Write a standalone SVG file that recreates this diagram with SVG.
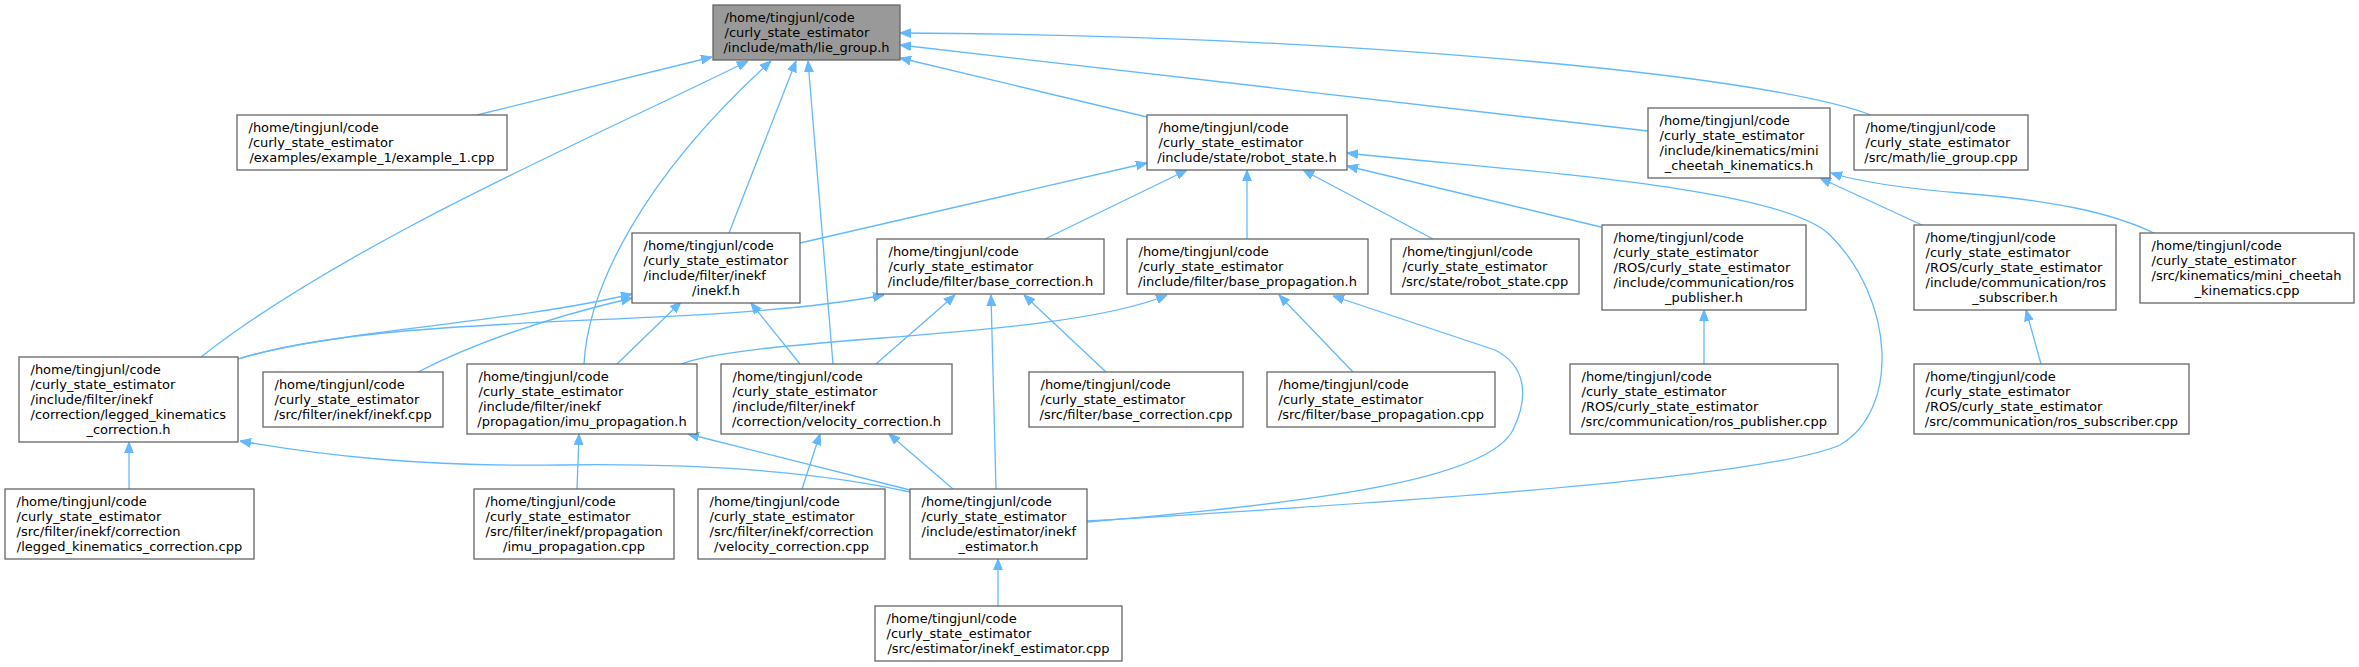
<svg xmlns="http://www.w3.org/2000/svg" width="2359" height="667" viewBox="0 0 2359 667">
<style>
.n rect{fill:#ffffff;stroke:#666666;stroke-width:1.3}
#n0 rect{fill:#999999}
.n text{font-family:"DejaVu Sans",sans-serif;font-size:13px;fill:#000000}
.n text.c{text-anchor:middle}
.e path{fill:none;stroke:#63b8ff;stroke-width:1.3;marker-end:url(#ah)}
</style>
<defs>
<marker id="ah" markerWidth="11" markerHeight="10" refX="11" refY="5" orient="auto" markerUnits="userSpaceOnUse">
<path d="M0,0.6 L11,5 L0,9.4 z" fill="#63b8ff" stroke="#63b8ff" stroke-width="1"/>
</marker>
</defs>
<rect width="2359" height="667" fill="#ffffff"/>
<g id="edges" class="e">
<path d="M477,115 L712,57"/>
<path d="M201,357 C 350,240 610,130 748,61"/>
<path d="M584,364 C 588,290 640,180 771,61"/>
<path d="M729,233 L796,61"/>
<path d="M833,364 L808,61"/>
<path d="M1147,117 L900,58"/>
<path d="M1648,131 L900,45"/>
<path d="M1871,115 C 1750,70 1300,35 900,33"/>
<path d="M800,243 L1147,163"/>
<path d="M1045,239 L1187,170"/>
<path d="M1247,239 L1247,170"/>
<path d="M1433,239 L1303,170"/>
<path d="M1601,227 L1347,166"/>
<path d="M1087,521 C 1350,505 1760,480 1840,445 C 1900,410 1895,300 1830,235 C 1780,185 1500,170 1347,153"/>
<path d="M1922,225 L1820,178"/>
<path d="M2154,233 C 2110,212 2050,200 1960,193 C 1900,188 1860,182 1831,173"/>
<path d="M238,359 C 330,330 500,325 632,294"/>
<path d="M418,372 C 480,340 560,315 632,298"/>
<path d="M617,364 L681,302"/>
<path d="M800,364 L751,303"/>
<path d="M238,359 C 400,310 700,330 884,295"/>
<path d="M876,364 L955,295"/>
<path d="M996,489 L991,295"/>
<path d="M1106,372 L1024,295"/>
<path d="M681,364 C 760,335 1060,340 1167,295"/>
<path d="M1353,372 L1279,295"/>
<path d="M1087,522 C 1350,500 1490,475 1513,430 C 1530,395 1525,365 1495,350 L1333,296"/>
<path d="M1704,364 L1704,310"/>
<path d="M2041,364 L2026,310"/>
<path d="M129,489 L129,442"/>
<path d="M910,492 C 820,472 700,463 560,465 C 420,467 320,455 240,441"/>
<path d="M577,489 L579,434"/>
<path d="M910,490 L688,434"/>
<path d="M802,489 L820,434"/>
<path d="M953,489 L889,434"/>
<path d="M998,606 L998,559"/>
</g>
<g id="n0" class="n"><rect x="713" y="5" width="187" height="55"/><text x="724.5" y="21.5">/home/tingjunl/code</text><text x="724.5" y="36.5">/curly_state_estimator</text><text class="c" x="806.5" y="51.5">/include/math/lie_group.h</text></g>
<g id="n1" class="n"><rect x="237" y="115" width="270" height="55"/><text x="248.5" y="131.5">/home/tingjunl/code</text><text x="248.5" y="146.5">/curly_state_estimator</text><text class="c" x="372" y="161.5">/examples/example_1/example_1.cpp</text></g>
<g id="n2" class="n"><rect x="1147" y="115" width="200" height="55"/><text x="1158.5" y="131.5">/home/tingjunl/code</text><text x="1158.5" y="146.5">/curly_state_estimator</text><text class="c" x="1247" y="161.5">/include/state/robot_state.h</text></g>
<g id="n3" class="n"><rect x="1648" y="108" width="182" height="70"/><text x="1659.5" y="124.5">/home/tingjunl/code</text><text x="1659.5" y="139.5">/curly_state_estimator</text><text x="1659.5" y="154.5">/include/kinematics/mini</text><text class="c" x="1739" y="169.5">_cheetah_kinematics.h</text></g>
<g id="n4" class="n"><rect x="1854" y="115" width="174" height="55"/><text x="1865.5" y="131.5">/home/tingjunl/code</text><text x="1865.5" y="146.5">/curly_state_estimator</text><text class="c" x="1941" y="161.5">/src/math/lie_group.cpp</text></g>
<g id="n5" class="n"><rect x="632" y="233" width="168" height="70"/><text x="643.5" y="249.5">/home/tingjunl/code</text><text x="643.5" y="264.5">/curly_state_estimator</text><text x="643.5" y="279.5">/include/filter/inekf</text><text class="c" x="716" y="294.5">/inekf.h</text></g>
<g id="n6" class="n"><rect x="877" y="239" width="227" height="55"/><text x="888.5" y="255.5">/home/tingjunl/code</text><text x="888.5" y="270.5">/curly_state_estimator</text><text class="c" x="990.5" y="285.5">/include/filter/base_correction.h</text></g>
<g id="n7" class="n"><rect x="1127" y="239" width="241" height="55"/><text x="1138.5" y="255.5">/home/tingjunl/code</text><text x="1138.5" y="270.5">/curly_state_estimator</text><text class="c" x="1247.5" y="285.5">/include/filter/base_propagation.h</text></g>
<g id="n8" class="n"><rect x="1391" y="239" width="188" height="55"/><text x="1402.5" y="255.5">/home/tingjunl/code</text><text x="1402.5" y="270.5">/curly_state_estimator</text><text class="c" x="1485" y="285.5">/src/state/robot_state.cpp</text></g>
<g id="n9" class="n"><rect x="1602" y="225" width="204" height="85"/><text x="1613.5" y="241.5">/home/tingjunl/code</text><text x="1613.5" y="256.5">/curly_state_estimator</text><text x="1613.5" y="271.5">/ROS/curly_state_estimator</text><text x="1613.5" y="286.5">/include/communication/ros</text><text class="c" x="1704" y="301.5">_publisher.h</text></g>
<g id="n10" class="n"><rect x="1914" y="225" width="202" height="85"/><text x="1925.5" y="241.5">/home/tingjunl/code</text><text x="1925.5" y="256.5">/curly_state_estimator</text><text x="1925.5" y="271.5">/ROS/curly_state_estimator</text><text x="1925.5" y="286.5">/include/communication/ros</text><text class="c" x="2015" y="301.5">_subscriber.h</text></g>
<g id="n11" class="n"><rect x="2140" y="233" width="214" height="70"/><text x="2151.5" y="249.5">/home/tingjunl/code</text><text x="2151.5" y="264.5">/curly_state_estimator</text><text x="2151.5" y="279.5">/src/kinematics/mini_cheetah</text><text class="c" x="2247" y="294.5">_kinematics.cpp</text></g>
<g id="n12" class="n"><rect x="19" y="357" width="219" height="85"/><text x="30.5" y="373.5">/home/tingjunl/code</text><text x="30.5" y="388.5">/curly_state_estimator</text><text x="30.5" y="403.5">/include/filter/inekf</text><text x="30.5" y="418.5">/correction/legged_kinematics</text><text class="c" x="128.5" y="433.5">_correction.h</text></g>
<g id="n13" class="n"><rect x="263" y="372" width="180" height="55"/><text x="274.5" y="388.5">/home/tingjunl/code</text><text x="274.5" y="403.5">/curly_state_estimator</text><text class="c" x="353" y="418.5">/src/filter/inekf/inekf.cpp</text></g>
<g id="n14" class="n"><rect x="467" y="364" width="230" height="70"/><text x="478.5" y="380.5">/home/tingjunl/code</text><text x="478.5" y="395.5">/curly_state_estimator</text><text x="478.5" y="410.5">/include/filter/inekf</text><text class="c" x="582" y="425.5">/propagation/imu_propagation.h</text></g>
<g id="n15" class="n"><rect x="721" y="364" width="231" height="70"/><text x="732.5" y="380.5">/home/tingjunl/code</text><text x="732.5" y="395.5">/curly_state_estimator</text><text x="732.5" y="410.5">/include/filter/inekf</text><text class="c" x="836.5" y="425.5">/correction/velocity_correction.h</text></g>
<g id="n16" class="n"><rect x="1029" y="372" width="214" height="55"/><text x="1040.5" y="388.5">/home/tingjunl/code</text><text x="1040.5" y="403.5">/curly_state_estimator</text><text class="c" x="1136" y="418.5">/src/filter/base_correction.cpp</text></g>
<g id="n17" class="n"><rect x="1267" y="372" width="228" height="55"/><text x="1278.5" y="388.5">/home/tingjunl/code</text><text x="1278.5" y="403.5">/curly_state_estimator</text><text class="c" x="1381" y="418.5">/src/filter/base_propagation.cpp</text></g>
<g id="n18" class="n"><rect x="1570" y="364" width="268" height="70"/><text x="1581.5" y="380.5">/home/tingjunl/code</text><text x="1581.5" y="395.5">/curly_state_estimator</text><text x="1581.5" y="410.5">/ROS/curly_state_estimator</text><text class="c" x="1704" y="425.5">/src/communication/ros_publisher.cpp</text></g>
<g id="n19" class="n"><rect x="1914" y="364" width="275" height="70"/><text x="1925.5" y="380.5">/home/tingjunl/code</text><text x="1925.5" y="395.5">/curly_state_estimator</text><text x="1925.5" y="410.5">/ROS/curly_state_estimator</text><text class="c" x="2051.5" y="425.5">/src/communication/ros_subscriber.cpp</text></g>
<g id="n20" class="n"><rect x="5" y="489" width="249" height="70"/><text x="16.5" y="505.5">/home/tingjunl/code</text><text x="16.5" y="520.5">/curly_state_estimator</text><text x="16.5" y="535.5">/src/filter/inekf/correction</text><text class="c" x="129.5" y="550.5">/legged_kinematics_correction.cpp</text></g>
<g id="n21" class="n"><rect x="474" y="489" width="200" height="70"/><text x="485.5" y="505.5">/home/tingjunl/code</text><text x="485.5" y="520.5">/curly_state_estimator</text><text x="485.5" y="535.5">/src/filter/inekf/propagation</text><text class="c" x="574" y="550.5">/imu_propagation.cpp</text></g>
<g id="n22" class="n"><rect x="698" y="489" width="187" height="70"/><text x="709.5" y="505.5">/home/tingjunl/code</text><text x="709.5" y="520.5">/curly_state_estimator</text><text x="709.5" y="535.5">/src/filter/inekf/correction</text><text class="c" x="791.5" y="550.5">/velocity_correction.cpp</text></g>
<g id="n23" class="n"><rect x="910" y="489" width="177" height="70"/><text x="921.5" y="505.5">/home/tingjunl/code</text><text x="921.5" y="520.5">/curly_state_estimator</text><text x="921.5" y="535.5">/include/estimator/inekf</text><text class="c" x="998.5" y="550.5">_estimator.h</text></g>
<g id="n24" class="n"><rect x="875" y="606" width="247" height="55"/><text x="886.5" y="622.5">/home/tingjunl/code</text><text x="886.5" y="637.5">/curly_state_estimator</text><text class="c" x="998.5" y="652.5">/src/estimator/inekf_estimator.cpp</text></g>
</svg>
